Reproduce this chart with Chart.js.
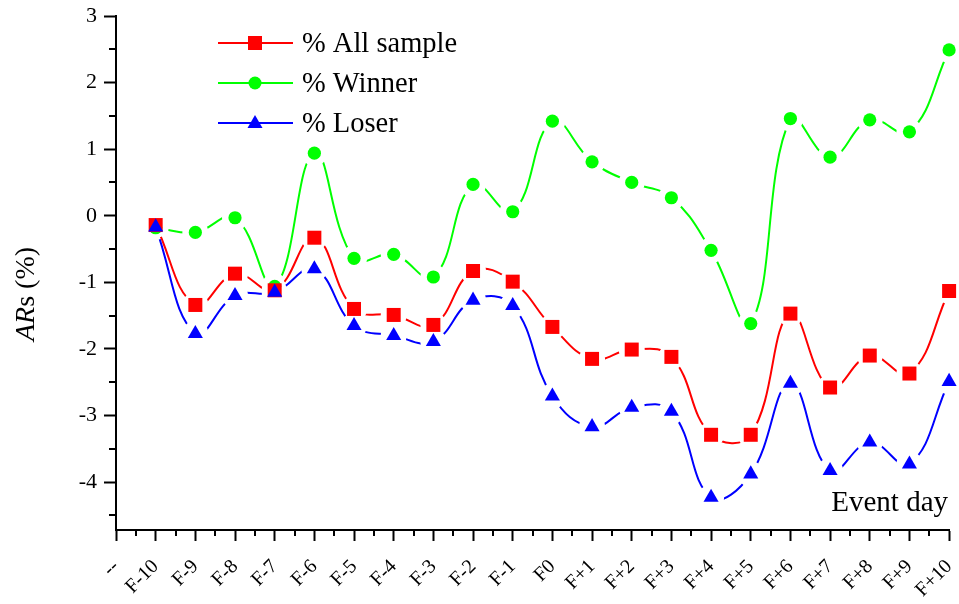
<!DOCTYPE html>
<html>
<head>
<meta charset="utf-8">
<script src="https://cdn.jsdelivr.net/npm/chart.js@4/dist/chart.umd.min.js"></script>
<style>
  html, body { margin: 0; padding: 0; background: #fff; }
  #wrap { width: 959px; height: 604px; }
</style>
</head>
<body>
<div id="wrap"><canvas id="arChart"></canvas></div>
<script>
// event window labels ("--" is the empty slot at the origin)
const days = ['--', 'F-10', 'F-9', 'F-8', 'F-7', 'F-6', 'F-5', 'F-4', 'F-3', 'F-2', 'F-1',
              'F0', 'F+1', 'F+2', 'F+3', 'F+4', 'F+5', 'F+6', 'F+7', 'F+8', 'F+9', 'F+10'];

// abnormal returns, %
const allSample = [null, -0.14, -1.34, -0.87, -1.12, -0.33, -1.40, -1.49, -1.64, -0.83, -0.99,
                   -1.67, -2.15, -2.01, -2.12, -3.29, -3.29, -1.47, -2.58, -2.10, -2.37, -1.13];
const winner    = [null, -0.18, -0.25, -0.03, -1.06, 0.94, -0.64, -0.58, -0.92, 0.47, 0.06,
                   1.42, 0.81, 0.50, 0.27, -0.52, -1.62, 1.46, 0.88, 1.44, 1.26, 2.49];
const loser     = [null, -0.17, -1.77, -1.20, -1.15, -0.80, -1.65, -1.80, -1.89, -1.27, -1.35,
                   -2.71, -3.17, -2.88, -2.94, -4.23, -3.88, -2.52, -3.83, -3.40, -3.73, -2.49];

const yTicks = [-4, -3, -2, -1, 0, 1, 2, 3];
const yMinor = [-4.5, -3.5, -2.5, -1.5, -0.5, 0.5, 1.5, 2.5];

const seriesNames = ['% All sample', '% Winner', '% Loser'];
const xTitle = 'Event day';

const SERIF = '"Liberation Serif", "Times New Roman", serif';
const RED = '#ff0000', GREEN = '#00ff00', BLUE = '#0000ff';
const GAP = 13;

Chart.defaults.font.family = SERIF;
Chart.defaults.color = '#000';

function markers(data, color, style, r) {
  return { data: data, showLine: false, pointStyle: style, pointRadius: r,
           backgroundColor: color, borderColor: color, borderWidth: 0, clip: false };
}
function curve(data, color, gapFor) {
  return { data: data, borderColor: color, borderWidth: 2, pointRadius: 0,
           tension: 0.42, fill: false, clip: false, gapFor: gapFor };
}

// cut the curve short of each symbol, like Origin's "gap to symbol"
const symbolGap = {
  id: 'symbolGap',
  beforeDatasetDraw(chart, args) {
    const ds = chart.data.datasets[args.index];
    if (ds.gapFor === undefined) return;
    const ctx = chart.ctx;
    ctx.save();
    ctx.beginPath();
    ctx.rect(0, 0, chart.width, chart.height);
    chart.getDatasetMeta(ds.gapFor).data.forEach(p => {
      if (p.skip || isNaN(p.x) || isNaN(p.y)) return;
      ctx.moveTo(p.x + GAP, p.y);
      ctx.arc(p.x, p.y, GAP, 0, Math.PI * 2);
    });
    ctx.clip('evenodd');
  },
  afterDatasetDraw(chart, args) {
    if (chart.data.datasets[args.index].gapFor !== undefined) chart.ctx.restore();
  }
};

function drawSymbol(ctx, style, x, y, color) {
  ctx.fillStyle = color;
  ctx.beginPath();
  if (style === 'rect') {
    ctx.rect(x - 7, y - 7, 14, 14);
  } else if (style === 'circle') {
    ctx.arc(x, y, 6.5, 0, Math.PI * 2);
  } else {
    ctx.moveTo(x, y - 8);
    ctx.lineTo(x + 7.5, y + 5);
    ctx.lineTo(x - 7.5, y + 5);
    ctx.closePath();
  }
  ctx.fill();
}

const decorations = {
  id: 'decorations',
  afterDraw(chart) {
    const ctx = chart.ctx;
    const xs = chart.scales.x, ys = chart.scales.y;
    const area = chart.chartArea;
    ctx.save();
    ctx.strokeStyle = '#000';
    ctx.lineWidth = 2;
    ctx.beginPath();
    // minor ticks
    for (let i = 0; i < days.length - 1; i++) {
      const xm = Math.round((xs.getPixelForValue(i) + xs.getPixelForValue(i + 1)) / 2);
      ctx.moveTo(xm, area.bottom);
      ctx.lineTo(xm, area.bottom + 6);
    }
    yMinor.forEach(v => {
      const ym = Math.round(ys.getPixelForValue(v));
      ctx.moveTo(area.left, ym);
      ctx.lineTo(area.left - 7, ym);
    });
    ctx.stroke();

    // legend
    const legend = [
      { name: seriesNames[0], color: RED, style: 'rect' },
      { name: seriesNames[1], color: GREEN, style: 'circle' },
      { name: seriesNames[2], color: BLUE, style: 'triangle' }
    ];
    legend.forEach((item, i) => {
      const y = 43 + i * 40;
      ctx.strokeStyle = item.color;
      ctx.lineWidth = 2;
      ctx.beginPath();
      ctx.moveTo(218, y);
      ctx.lineTo(293, y);
      ctx.stroke();
      drawSymbol(ctx, item.style, 255, y, item.color);
      ctx.fillStyle = '#000';
      ctx.font = '28.5px ' + SERIF;
      ctx.textAlign = 'left';
      ctx.textBaseline = 'alphabetic';
      ctx.fillText(item.name, 302, y + 9);
    });

    // axis captions
    ctx.fillStyle = '#000';
    ctx.font = '29px ' + SERIF;
    ctx.textAlign = 'right';
    ctx.fillText(xTitle, 948, 511);

    ctx.translate(34, 294);
    ctx.rotate(-Math.PI / 2);
    const italic = 'italic 28px ' + SERIF, upright = '28px ' + SERIF;
    ctx.font = italic;
    const w1 = ctx.measureText('AR').width;
    ctx.font = upright;
    const w2 = ctx.measureText('s (%)').width;
    ctx.textAlign = 'left';
    ctx.font = italic;
    ctx.fillText('AR', -(w1 + w2) / 2, 0);
    ctx.font = upright;
    ctx.fillText('s (%)', -(w1 + w2) / 2 + w1, 0);
    ctx.restore();
  }
};

new Chart(document.getElementById('arChart'), {
  type: 'line',
  data: {
    labels: days,
    datasets: [
      markers(loser, BLUE, 'triangle', 8.7),
      markers(allSample, RED, 'rect', 9.9),
      markers(winner, GREEN, 'circle', 6.6),
      curve(loser, BLUE, 0),
      curve(allSample, RED, 1),
      curve(winner, GREEN, 2)
    ]
  },
  options: {
    responsive: true,
    maintainAspectRatio: false,
    animation: false,
    events: [],
    layout: { padding: { top: 16, right: 4, left: 0, bottom: 0 } },
    plugins: { legend: { display: false }, tooltip: { enabled: false } },
    scales: {
      x: {
        type: 'category',
        offset: false,
        grid: { drawOnChartArea: false, tickLength: 11, tickWidth: 2, tickColor: '#000' },
        border: { display: true, color: '#000', width: 2 },
        ticks: { autoSkip: false, maxRotation: 45, minRotation: 45, padding: 14,
                 font: { size: 20, family: SERIF }, color: '#000' },
        afterFit(scale) {
          scale.height = 74;
          scale.paddingLeft = 0;
          scale.paddingRight = 0;
        }
      },
      y: {
        min: -4.72,
        max: 3,
        afterBuildTicks(scale) { scale.ticks = yTicks.map(v => ({ value: v })); },
        grid: { drawOnChartArea: false, tickLength: 12, tickWidth: 2, tickColor: '#000' },
        border: { display: true, color: '#000', width: 2 },
        ticks: { padding: 7, font: { size: 22, family: SERIF }, color: '#000' },
        afterFit(scale) {
          scale.width = 116;
          scale.paddingTop = 0;
          scale.paddingBottom = 0;
        }
      }
    }
  },
  plugins: [symbolGap, decorations]
});
</script>
</body>
</html>
